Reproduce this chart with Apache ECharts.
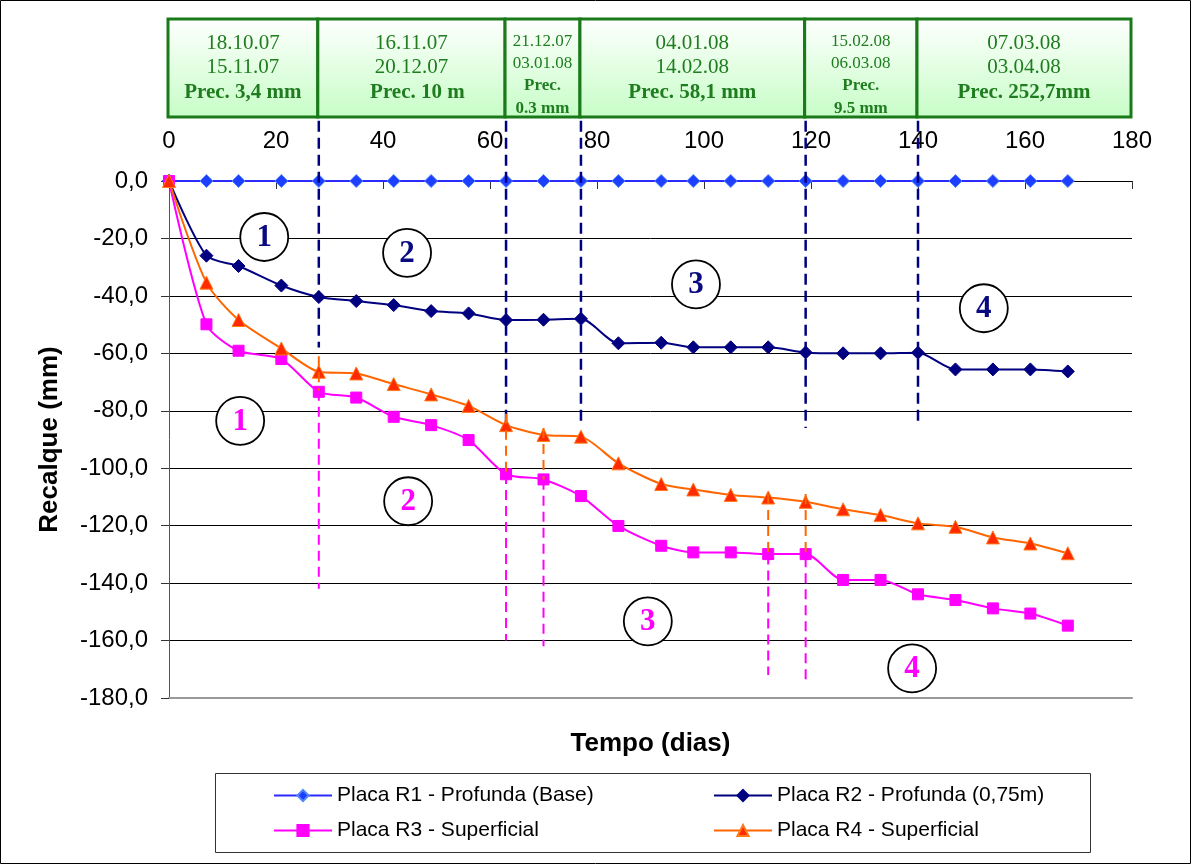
<!DOCTYPE html>
<html>
<head>
<meta charset="utf-8">
<script src="https://cdn.jsdelivr.net/npm/echarts@6/dist/echarts.min.js"></script>
<style>html,body{margin:0;padding:0;background:#fff;}#c{width:1192px;height:865px;}</style>
</head>
<body>
<div id="c"></div>
<script>
// ---- data ----
const days = [0,7,13,21,28,35,42,49,56,63,70,77,84,92,98,105,112,119,126,133,140,147,154,161,168];
const r1 = [0,0,0,0,0,0,0,0,0,0,0,0,0,0,0,0,0,0,0,0,0,0,0,0,0];
const r2 = [0,-26.0,-29.6,-36.4,-40.4,-41.8,-43.2,-45.3,-46.1,-48.4,-48.3,-48.0,-56.5,-56.3,-57.9,-57.9,-57.9,-59.7,-60.0,-60.0,-59.8,-65.6,-65.6,-65.6,-66.3];
const r3 = [0,-49.9,-59.1,-62.0,-73.4,-75.4,-82.1,-85.0,-90.2,-102.1,-103.9,-109.7,-120.1,-127.0,-129.3,-129.3,-129.9,-129.9,-138.9,-138.9,-143.9,-145.9,-148.8,-150.6,-154.8];
const r4 = [0,-35.4,-48.4,-58.3,-66.4,-67.0,-70.7,-74.3,-78.3,-85.0,-88.4,-89.0,-98.3,-105.5,-107.4,-109.3,-110.2,-111.7,-114.3,-116.3,-119.2,-120.4,-124.1,-126.2,-129.6];
const seriesNames = ['Placa R1 - Profunda (Base)','Placa R2 - Profunda (0,75m)','Placa R3 - Superficial','Placa R4 - Superficial'];

const periodBounds = [0,28,63,77,119,140,180];
const periodStart = ['18.10.07','16.11.07','21.12.07','04.01.08','15.02.08','07.03.08'];
const periodEnd   = ['15.11.07','20.12.07','03.01.08','14.02.08','06.03.08','03.04.08'];
const periodPrec  = ['Prec. 3,4 mm','Prec. 10 mm','Prec. 0.3 mm','Prec. 58,1 mm','Prec. 9.5 mm','Prec. 252,7mm'];

// vertical dashed markers: [day, yFrom, yTo]
const navySegments    = [[28,21,-58],[63,21,-84],[77,21,-85],[119,21,-86],[140,21,-85]];
const orangeSegments  = [[28,-61,-73],[63,-81,-102],[70,-86,-104],[112,-109,-130],[119,-109,-131]];
const magentaSegments = [[28,-73,-142],[63,-102,-160],[70,-104,-162],[112,-130,-172],[119,-131,-174]];

// circled stage numbers: [day, value, label]
const navyCircles    = [[17.8,-19.5,'1'],[44.5,-25.0,'2'],[98.5,-36.0,'3'],[152.3,-44.3,'4']];
const magentaCircles = [[13.3,-83.5,'1'],[44.7,-111.5,'2'],[89.5,-153.3,'3'],[138.9,-169.7,'4']];

const yTickLabelFmt = v => v.toFixed(1).replace('.', ',');

// ---- build ----
const chart = echarts.init(document.getElementById('c'), null, {renderer:'canvas'});
const pairs = arr => days.map((d,i)=>[d, arr[i]]);
const SANS = 'Liberation Sans, Arial, sans-serif';
const SERIF = 'Liberation Serif, Times New Roman, serif';
const GREEN = '#1f7d1f';

function segSeries(name, data, color, width, dash){
  return {
    type:'custom', name, z:6, silent:true,
    encode:{x:0, y:[1,2]},
    data,
    renderItem:(params, api)=>{
      const a = api.coord([api.value(0), api.value(1)]);
      const b = api.coord([api.value(0), api.value(2)]);
      return {type:'line', shape:{x1:a[0],y1:a[1],x2:b[0],y2:b[1]},
        style:{stroke:color, lineWidth:width, lineDash:dash}};
    }
  };
}
function circleSeries(name, data, color){
  return {
    type:'scatter', name, z:8, silent:true,
    symbol:'circle', symbolSize:48,
    itemStyle:{color:'#fff', borderColor:'#000', borderWidth:1.8, opacity:1},
    label:{show:true, position:'inside', formatter:p=>p.data[2],
      fontFamily:SERIF, fontWeight:'bold', fontSize:31, color:color, opacity:1,
      textBorderWidth:0, textBorderColor:'transparent', offset:[0,1]},
    data
  };
}

const boxData = periodStart.map((s,i)=>[periodBounds[i], periodBounds[i+1], i]);

const boxSeries = {
  type:'custom', name:'periods', z:10, silent:true,
  encode:{x:[0,1]},
  data: boxData,
  renderItem:(params, api)=>{
    const i = api.value(2);
    const p0 = api.coord([api.value(0), 0]);
    const p1 = api.coord([api.value(1), 0]);
    const gy = params.coordSys.y;
    const top = gy - 162, bot = gy - 64;
    const x0 = p0[0]-1, x1 = p1[0]-1, w = x1-x0, cx = (x0+x1)/2;
    const narrow = w < 125;
    const fs = narrow ? 17 : 21;
    const children = [{
      type:'rect', shape:{x:x0, y:top, width:w, height:bot-top},
      style:{fill:new echarts.graphic.LinearGradient(0,0,0,1,[{offset:0,color:'#ffffff'},{offset:1,color:'#c6fdc6'}]),
             stroke:'#1a7a1a', lineWidth:3}
    }];
    if(!narrow){
      const ys=[top+24, top+48, top+74];
      [periodStart[i], periodEnd[i], periodPrec[i]].forEach((t,k)=>{
        children.push({type:'text', style:{text:t, x:cx+(k==2&&i==1?6:0), y:ys[k], align:'center', verticalAlign:'middle',
          fontFamily:SERIF, fontSize:fs, fontWeight:k==2?'bold':'normal', fill:GREEN,
          width:(k==2? (i==1?104:w-6) : w-6), overflow:'truncate', ellipsis:''}});
      });
    } else {
      const parts = periodPrec[i].split(' ');
      const lines = [periodStart[i], periodEnd[i], parts[0], parts.slice(1).join(' ')];
      const ys=[top+23, top+45, top+67, top+90];
      lines.forEach((t,k)=>{
        children.push({type:'text', style:{text:t, x:cx, y:ys[k], align:'center', verticalAlign:'middle',
          fontFamily:SERIF, fontSize:fs, fontWeight:k>=2?'bold':'normal', fill:GREEN}});
      });
    }
    return {type:'group', children};
  }
};

const option = {
  animation:false,
  backgroundColor:'#fff',
  grid:{left:169, top:181, width:963, height:517, containLabel:false},
  xAxis:[{
    type:'value', position:'top', min:0, max:180, interval:20,
    axisLine:{show:true, onZero:false, lineStyle:{color:'#000', width:1}},
    axisTick:{show:true, inside:true, length:8, lineStyle:{color:'#333'}},
    axisLabel:{fontFamily:SANS, fontSize:24, color:'#000', margin:28},
    splitLine:{show:false}
  },{
    type:'value', position:'bottom', min:0, max:180, interval:20,
    axisLine:{show:true, onZero:false, lineStyle:{color:'#999', width:2}},
    axisTick:{show:false}, axisLabel:{show:false}, splitLine:{show:false},
    name:'Tempo (dias)', nameLocation:'middle', nameGap:33,
    nameTextStyle:{fontFamily:SANS, fontWeight:'bold', fontSize:26, color:'#000'}
  }],
  yAxis:{
    type:'value', min:-180, max:0, interval:20,
    name:'Recalque (mm)', nameLocation:'middle', nameGap:106, nameRotate:90,
    nameTextStyle:{fontFamily:SANS, fontWeight:'bold', fontSize:26, color:'#000'},
    axisLine:{show:true, onZero:false, lineStyle:{color:'#555', width:1}},
    axisTick:{show:true, inside:false, length:8, lineStyle:{color:'#333'}},
    axisLabel:{fontFamily:SANS, fontSize:24, color:'#000', margin:21, formatter:yTickLabelFmt},
    splitLine:{show:true, lineStyle:{color:'#000', width:1}}
  },
  legend:[{
    data:[seriesNames[0], seriesNames[2]], orient:'vertical', left:268, top:780,
    itemWidth:58, itemHeight:14, itemGap:14,
    textStyle:{fontFamily:SANS, fontSize:21, color:'#000'}
  },{
    data:[seriesNames[1], seriesNames[3]], orient:'vertical', left:708, top:780,
    itemWidth:58, itemHeight:14, itemGap:14,
    textStyle:{fontFamily:SANS, fontSize:21, color:'#000'}
  }],
  graphic:[
    {type:'rect', shape:{x:0.5,y:0.5,width:1190,height:863}, style:{fill:'none', stroke:'#000', lineWidth:1}, silent:true},
    {type:'rect', shape:{x:215.5,y:773.5,width:875,height:79}, style:{fill:'none', stroke:'#333', lineWidth:1}, silent:true}
  ],
  series:[
    {type:'line', name:seriesNames[0], data:pairs(r1), smooth:0.25, symbol:'diamond', symbolSize:13,
      lineStyle:{color:'#2b2bff', width:2}, itemStyle:{color:'#1f3fff', borderColor:'#4f86ff', borderWidth:1}, z:3},
    {type:'line', name:seriesNames[1], data:pairs(r2), smooth:0.25, symbol:'diamond', symbolSize:13,
      lineStyle:{color:'#000080', width:2}, itemStyle:{color:'#000080', borderColor:'#000080', borderWidth:1}, z:3},
    {type:'line', name:seriesNames[2], data:pairs(r3), smooth:0.25, symbol:'rect', symbolSize:11,
      lineStyle:{color:'#ff00ff', width:2}, itemStyle:{color:'#ff00ff', borderColor:'#ff00ff', borderWidth:1}, z:3},
    {type:'line', name:seriesNames[3], data:pairs(r4), smooth:0.25, symbol:'triangle', symbolSize:13,
      lineStyle:{color:'#ff6600', width:2}, itemStyle:{color:'#ff2a00', borderColor:'#ff7a1a', borderWidth:1}, z:3},
    segSeries('navySeg', navySegments, '#000080', 2.5, [11,6]),
    segSeries('orangeSeg', orangeSegments, '#ff6600', 2, [10,6]),
    segSeries('magentaSeg', magentaSegments, '#ff00ff', 2, [10,6]),
    circleSeries('navyCircles', navyCircles, '#0a0a80'),
    circleSeries('magentaCircles', magentaCircles, '#ff00ff'),
    boxSeries
  ]
};
chart.setOption(option);
</script>
</body>
</html>
